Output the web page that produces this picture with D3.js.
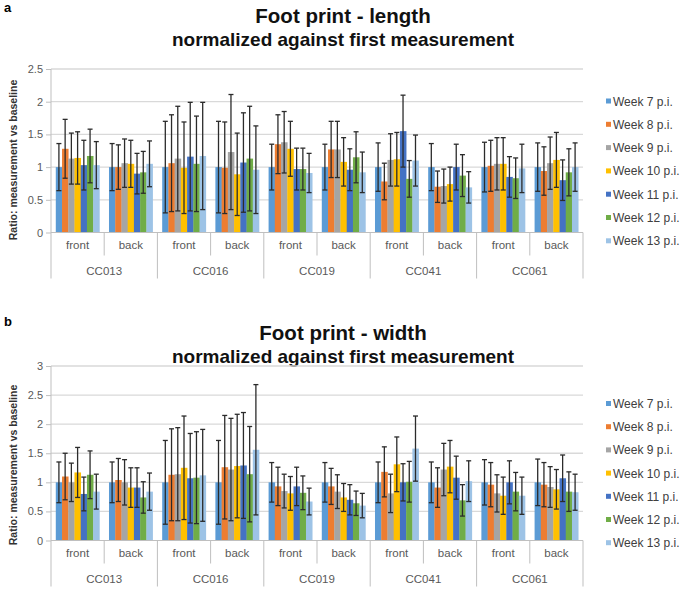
<!DOCTYPE html>
<html><head><meta charset="utf-8">
<script src="https://cdn.jsdelivr.net/npm/d3@7"></script>
<style>body{margin:0;background:#fff}svg{display:block}text{font-family:"Liberation Sans",Arial,sans-serif}</style>
</head><body><svg id="c" width="685" height="590"></svg>
<script>
const weeks = ["Week 7 p.i.","Week 8 p.i.","Week 9 p.i.","Week 10 p.i.","Week 11 p.i.","Week 12 p.i.","Week 13 p.i."];
const colors = ["#5B9BD5","#ED7D31","#A5A5A5","#FFC000","#4472C4","#70AD47","#9DC3E6"];
const groups = ["CC013","CC016","CC019","CC041","CC061"];
const sides = ["front","back"];
// rows: CC013 front, CC013 back, CC016 front, ... ; columns: weeks 7..13
const lengthMean = [
 [1.0,1.28,1.13,1.14,1.03,1.17,1.03],
 [1.0,1.0,1.06,1.05,0.90,0.92,1.05],
 [1.0,1.06,1.13,0.99,1.16,1.05,1.17],
 [1.0,0.99,1.23,0.89,1.07,1.13,0.96],
 [1.0,1.35,1.38,1.28,0.97,0.97,0.91],
 [1.0,1.27,1.27,1.08,0.96,1.15,0.92],
 [1.0,0.78,1.11,1.12,1.55,0.82,1.10],
 [1.0,0.70,0.71,0.74,1.0,0.87,0.69],
 [1.0,1.02,1.05,1.05,0.85,0.83,0.98],
 [1.0,0.94,1.06,1.11,0.80,0.92,1.0]
];
const lengthErr = [
 [0.36,0.45,0.39,0.40,0.38,0.41,0.36],
 [0.36,0.34,0.37,0.36,0.31,0.32,0.35],
 [0.70,0.74,0.80,0.70,0.83,0.73,0.82],
 [0.70,0.70,0.88,0.63,0.76,0.80,0.67],
 [0.35,0.45,0.47,0.42,0.32,0.32,0.30],
 [0.35,0.43,0.43,0.37,0.32,0.39,0.31],
 [0.37,0.28,0.40,0.41,0.55,0.28,0.39],
 [0.36,0.24,0.26,0.26,0.35,0.32,0.24],
 [0.38,0.39,0.40,0.40,0.31,0.31,0.37],
 [0.37,0.37,0.40,0.42,0.31,0.36,0.37]
];
const widthMean = [
 [1.0,1.10,1.0,1.17,0.80,1.13,0.84],
 [1.0,1.04,1.0,0.91,0.91,0.74,0.84],
 [1.0,1.13,1.14,1.25,1.07,1.08,1.12],
 [1.0,1.26,1.22,1.28,1.29,1.14,1.56],
 [1.0,0.93,0.85,0.81,0.93,0.82,0.67],
 [1.0,0.93,0.84,0.74,0.70,0.64,0.60],
 [1.0,1.18,0.81,1.31,1.0,1.01,1.58],
 [1.0,0.91,1.22,1.27,1.08,0.69,1.02],
 [1.0,0.96,0.81,0.77,1.0,0.84,0.77],
 [1.0,0.96,0.92,0.88,1.07,0.84,0.83]
];
const widthErr = [
 [0.35,0.40,0.33,0.43,0.29,0.41,0.30],
 [0.35,0.37,0.39,0.34,0.34,0.27,0.32],
 [0.72,0.79,0.80,0.89,0.77,0.79,0.79],
 [0.72,0.89,0.88,0.89,0.91,0.82,1.12],
 [0.34,0.33,0.29,0.29,0.33,0.29,0.23],
 [0.34,0.31,0.29,0.24,0.26,0.21,0.21],
 [0.35,0.43,0.33,0.47,0.32,0.35,0.56],
 [0.35,0.34,0.45,0.45,0.37,0.27,0.35],
 [0.39,0.38,0.32,0.32,0.37,0.33,0.32],
 [0.40,0.38,0.35,0.34,0.40,0.34,0.31]
];
const lengthTicks = [0,0.5,1,1.5,2,2.5];
const widthTicks = [0,0.5,1,1.5,2,2.5,3];
const yTitle = "Ratio: measurement vs baseline";

const svg = d3.select("#c");
const keys = [];
groups.forEach(g => sides.forEach(s => keys.push(g + "|" + s)));

function drawChart(o) {
  const g = svg.append("g");
  const left = 51, right = 583;
  const y = d3.scaleLinear().domain([0, d3.max(o.ticks)]).range([o.y0, o.yTop]);
  const x0 = d3.scaleBand().domain(keys).range([left, right]);
  const bw = x0.bandwidth();
  const x1 = d3.scaleBand().domain(weeks).range([bw * 0.09, bw * 0.91]);
  const catMid = o.y0 + 23, catBot = o.y0 + 46;

  g.append("text").attr("x", 4).attr("y", o.letterY).attr("font-size", 13).attr("font-weight", "bold").text(o.letter);
  g.append("text").attr("x", 343).attr("y", o.titleY).attr("text-anchor", "middle").attr("font-size", 20.5).attr("font-weight", "bold").attr("fill", "#111").text(o.title);
  g.append("text").attr("x", 343).attr("y", o.titleY + 23).attr("text-anchor", "middle").attr("font-size", 19).attr("font-weight", "bold").attr("fill", "#111").text(o.subtitle);

  // gridlines
  g.append("g").selectAll("line").data(o.ticks.filter(t => t > 0)).join("line")
    .attr("x1", left).attr("x2", right).attr("y1", d => y(d)).attr("y2", d => y(d))
    .attr("stroke", "#d9d9d9").attr("stroke-width", 1.3);

  // y axis
  const ax = g.append("g").attr("transform", `translate(${left},0)`)
    .call(d3.axisLeft(y).tickValues(o.ticks).tickSize(5).tickSizeOuter(0).tickFormat(d => d));
  ax.select(".domain").remove();
  ax.selectAll(".tick line").attr("stroke", "#bfbfbf");
  ax.selectAll(".tick text").attr("font-size", 11).attr("fill", "#595959").attr("x", -8)
    .style("font-family", "'Liberation Sans',Arial,sans-serif");
  g.append("line").attr("x1", left).attr("x2", left).attr("y1", o.yTop).attr("y2", catBot).attr("stroke", "#bfbfbf").attr("stroke-width", 1);

  g.append("text").attr("transform", `translate(${o.titleX},${o.yTitleMid}) rotate(-90)`)
    .attr("text-anchor", "middle").attr("font-size", 10.5).attr("font-weight", "bold").attr("fill", "#333").text(yTitle);

  // bars
  keys.forEach((k, i) => {
    const gx = x0(k);
    g.append("g").selectAll("rect").data(o.mean[i]).join("rect")
      .attr("x", (d, j) => gx + x1(weeks[j])).attr("width", x1.bandwidth() + 0.3)
      .attr("y", d => y(d)).attr("height", d => y(0) - y(d))
      .attr("fill", (d, j) => colors[j]);
  });
  // x axis line
  g.append("line").attr("x1", left).attr("x2", right).attr("y1", y(0)).attr("y2", y(0)).attr("stroke", "#bfbfbf");
  // error bars
  keys.forEach((k, i) => {
    const gx = x0(k);
    const eg = g.append("g").attr("stroke", "#2b2b2b").attr("stroke-width", 1.3);
    o.mean[i].forEach((m, j) => {
      const cx = gx + x1(weeks[j]) + x1.bandwidth() / 2;
      const e = o.err[i][j];
      const hi = y(m + e), lo = y(m - e);
      eg.append("line").attr("x1", cx).attr("x2", cx).attr("y1", hi).attr("y2", lo);
      eg.append("line").attr("x1", cx - 2.5).attr("x2", cx + 2.5).attr("y1", hi).attr("y2", hi);
      eg.append("line").attr("x1", cx - 2.5).attr("x2", cx + 2.5).attr("y1", lo).attr("y2", lo);
    });
  });

  // category axis
  keys.forEach((k, i) => {
    const gx = x0(k);
    const [grp, side] = k.split("|");
    g.append("text").attr("x", gx + bw / 2).attr("y", catMid - 11 + 4).attr("text-anchor", "middle")
      .attr("font-size", 11.5).attr("fill", "#595959").text(side);
    const xe = gx + bw;
    const long = (i % 2 === 1);
    g.append("line").attr("x1", xe).attr("x2", xe).attr("y1", y(0)).attr("y2", long ? catBot : catMid)
      .attr("stroke", "#bfbfbf");
    if (i % 2 === 0) {
      g.append("text").attr("x", gx + bw).attr("y", catBot - 4).attr("text-anchor", "middle")
        .attr("font-size", 11.5).attr("fill", "#595959").text(grp);
    }
  });

  // legend
  const lg = g.append("g");
  weeks.forEach((w, j) => {
    const ly = o.legY + j * o.legStep;
    lg.append("rect").attr("x", 606).attr("y", ly - 3).attr("width", 5).attr("height", 5).attr("fill", colors[j]);
    lg.append("text").attr("x", 613).attr("y", ly + 4).attr("font-size", 12).attr("fill", "#404040").text(w);
  });
}

drawChart({letter: "a", letterY: 12, title: "Foot print - length", titleY: 23,
  subtitle: "normalized against first measurement", ticks: lengthTicks,
  y0: 232.5, yTop: 69, mean: lengthMean, err: lengthErr,
  titleX: 17, yTitleMid: 160, legY: 101.5, legStep: 23.3});
drawChart({letter: "b", letterY: 326, title: "Foot print - width", titleY: 340,
  subtitle: "normalized against first measurement", ticks: widthTicks,
  y0: 540.5, yTop: 366, mean: widthMean, err: widthErr,
  titleX: 17, yTitleMid: 465, legY: 404, legStep: 23.2});
</script></body></html>
